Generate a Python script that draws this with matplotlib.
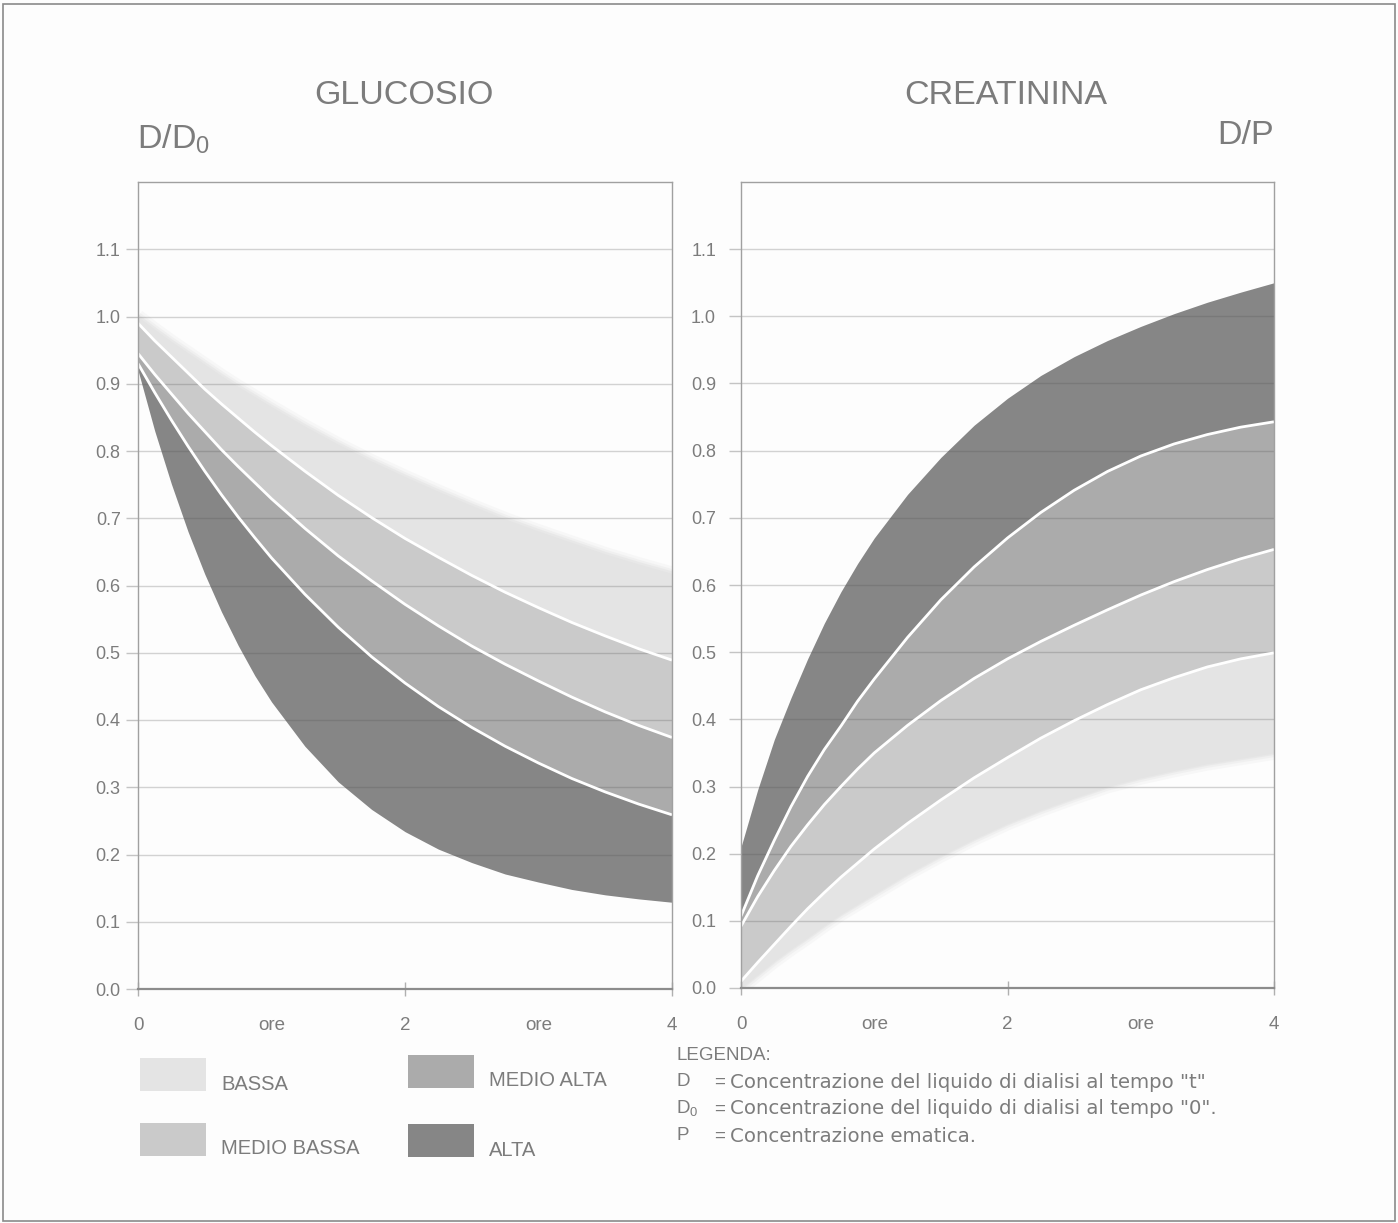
import matplotlib
matplotlib.use('Agg')
import matplotlib.pyplot as plt
from matplotlib.patches import Rectangle

plt.rcParams['font.family'] = ['Liberation Sans', 'DejaVu Sans']
plt.rcParams['mathtext.fontset'] = 'custom'
plt.rcParams['mathtext.rm'] = 'Liberation Sans'

W, H = 1398, 1223

# ---------------- data ----------------
hours = [0, 0.125, 0.25, 0.375, 0.5, 0.625, 0.75, 0.875, 1.0, 1.25, 1.5,
         1.75, 2.0, 2.25, 2.5, 2.75, 3.0, 3.25, 3.5, 3.75, 4.0]

categories = ['BASSA', 'MEDIO BASSA', 'MEDIO ALTA', 'ALTA']

# GLUCOSIO  D/D0  - band boundaries (top to bottom)
glu_bassa_top = [1.00, 0.981, 0.963, 0.946, 0.929, 0.912, 0.896, 0.881, 0.866,
                 0.837, 0.810, 0.785, 0.762, 0.740, 0.719, 0.699, 0.681,
                 0.664, 0.647, 0.632, 0.618]
glu_bassa_mb = [0.99, 0.964, 0.940, 0.916, 0.892, 0.870, 0.849, 0.828, 0.808,
                0.770, 0.734, 0.701, 0.670, 0.642, 0.615, 0.590, 0.567,
                0.545, 0.525, 0.506, 0.489]
glu_mb_ma = [0.945, 0.914, 0.885, 0.856, 0.829, 0.802, 0.777, 0.753, 0.729,
             0.685, 0.644, 0.607, 0.572, 0.540, 0.510, 0.483, 0.458,
             0.434, 0.412, 0.392, 0.374]
glu_ma_alta = [0.93, 0.887, 0.846, 0.807, 0.770, 0.735, 0.702, 0.671, 0.641,
               0.587, 0.538, 0.494, 0.455, 0.420, 0.389, 0.361, 0.336,
               0.313, 0.293, 0.275, 0.259]
glu_alta_bottom = [0.92, 0.830, 0.751, 0.680, 0.617, 0.561, 0.511, 0.466, 0.427,
                   0.361, 0.308, 0.267, 0.234, 0.208, 0.188, 0.171, 0.159,
                   0.148, 0.140, 0.134, 0.129]

# CREATININA  D/P - band boundaries (top to bottom)
cre_alta_top = [0.21, 0.295, 0.37, 0.432, 0.49, 0.543, 0.59, 0.632, 0.67,
                0.735, 0.79, 0.838, 0.878, 0.912, 0.94, 0.964, 0.985,
                1.004, 1.021, 1.036, 1.05]
cre_alta_ma = [0.107, 0.167, 0.22, 0.27, 0.315, 0.355, 0.39, 0.427, 0.46,
               0.522, 0.578, 0.627, 0.67, 0.708, 0.741, 0.769, 0.792,
               0.810, 0.824, 0.835, 0.843]
cre_ma_mb = [0.092, 0.136, 0.175, 0.211, 0.243, 0.273, 0.30, 0.326, 0.35,
             0.391, 0.428, 0.461, 0.49, 0.516, 0.54, 0.563, 0.585,
             0.605, 0.623, 0.639, 0.653]
cre_mb_bassa = [0.01, 0.038, 0.065, 0.092, 0.118, 0.142, 0.165, 0.186, 0.207,
                0.245, 0.28, 0.313, 0.343, 0.372, 0.398, 0.422, 0.444,
                0.462, 0.478, 0.49, 0.499]
cre_bassa_bottom = [0.0, 0.02, 0.04, 0.058, 0.075, 0.093, 0.11, 0.125, 0.14,
                    0.17, 0.197, 0.222, 0.245, 0.265, 0.283, 0.30, 0.313,
                    0.324, 0.334, 0.342, 0.35]

yticks = [0.0, 0.1, 0.2, 0.3, 0.4, 0.5, 0.6, 0.7, 0.8, 0.9, 1.0, 1.1]
ytick_labels = ['0.0', '0.1', '0.2', '0.3', '0.4', '0.5', '0.6', '0.7',
                '0.8', '0.9', '1.0', '1.1']
xticks_major = [0, 2, 4]
xtick_major_labels = ['0', '2', '4']
xticks_minor = [1, 3]
xtick_minor_labels = ['ore', 'ore']

legend_lines = [('D', 'Concentrazione del liquido di dialisi al tempo "t"'),
                ('D$_\\mathregular{0}$', 'Concentrazione del liquido di dialisi al tempo "0".'),
                ('P', 'Concentrazione ematica.')]

# ---------------- style ----------------
band_colors = {'BASSA': '#e4e4e4', 'MEDIO BASSA': '#cacaca',
               'MEDIO ALTA': '#ababab', 'ALTA': '#868686'}
TXT = '#7c7c7c'
BG = '#fdfdfd'


def fx(px):
    return px / W


def fy(py):
    return 1 - py / H


fig = plt.figure(figsize=(W / 100, H / 100), dpi=100, facecolor=BG)

ax1 = fig.add_axes([fx(138), fy(989), fx(672) - fx(138), fy(182) - fy(989)])
ax2 = fig.add_axes([fx(741), fy(988), fx(1274) - fx(741), fy(182) - fy(988)])


def style(ax, ypad):
    ax.set_xlim(0, 4)
    ax.set_ylim(0, 1.2)
    ax.set_facecolor('none')
    for s in ax.spines.values():
        s.set_color('#a0a0a0')
        s.set_linewidth(1.0)
    ax.spines['bottom'].set_color('#8c8c8c')
    ax.spines['bottom'].set_linewidth(1.6)
    ax.set_yticks(yticks)
    ax.set_yticklabels(ytick_labels)
    ax.set_xticks(xticks_major)
    ax.set_xticklabels(xtick_major_labels)
    ax.set_xticks(xticks_minor, minor=True)
    ax.set_xticklabels(xtick_minor_labels, minor=True)
    ax.tick_params(axis='x', which='major', direction='inout', length=10,
                   width=1, color='#b0b0b0', pad=15, labelsize=13.5,
                   labelcolor=TXT)
    ax.tick_params(axis='x', which='minor', length=0, pad=20,
                   labelsize=13.5, labelcolor=TXT)
    ax.tick_params(axis='y', direction='out', length=9, width=1,
                   color='#c4c4c4', pad=ypad, labelsize=13, labelcolor=TXT)
    for y in yticks[1:]:
        ax.axhline(y, color='#555555', lw=1.0, alpha=0.25, zorder=1.5)


def bands(ax, bounds, order, soft_edge):
    # bounds: list top->bottom, order: category for each band top->bottom
    for i, cat in enumerate(order):
        ax.fill_between(hours, bounds[i + 1], bounds[i],
                        color=band_colors[cat], lw=0, zorder=1)
    # soft, slightly blurred outer edge of the lightest band
    for lw, a in [(10, 0.22), (6, 0.35), (3, 0.6)]:
        ax.plot(hours, soft_edge, color=band_colors['BASSA'], lw=lw,
                alpha=a, zorder=0.9, solid_capstyle='butt')
    for b in bounds[1:-1]:
        ax.plot(hours, b, color='white', lw=2.0, zorder=2,
                solid_capstyle='butt', solid_joinstyle='round')


style(ax1, 3.5)
style(ax2, 9)

bands(ax1, [glu_bassa_top, glu_bassa_mb, glu_mb_ma, glu_ma_alta, glu_alta_bottom],
      ['BASSA', 'MEDIO BASSA', 'MEDIO ALTA', 'ALTA'], glu_bassa_top)
bands(ax2, [cre_alta_top, cre_alta_ma, cre_ma_mb, cre_mb_bassa, cre_bassa_bottom],
      ['ALTA', 'MEDIO ALTA', 'MEDIO BASSA', 'BASSA'], cre_bassa_bottom)

# titles and axis names
fig.text(fx(404), fy(95), 'GLUCOSIO', ha='center', va='center',
         fontsize=24.5, color=TXT)
fig.text(fx(1006), fy(95), 'CREATININA', ha='center', va='center',
         fontsize=24.5, color=TXT)
fig.text(fx(137), fy(139), 'D/D$_\\mathregular{0}$', ha='left', va='center',
         fontsize=24.5, color=TXT)
fig.text(fx(1274), fy(136), 'D/P', ha='right', va='center',
         fontsize=24.5, color=TXT)

# swatch legend
swatches = {'BASSA': (140, 1058), 'MEDIO BASSA': (140, 1123),
            'MEDIO ALTA': (408, 1055), 'ALTA': (408, 1124)}
for cat in categories:
    sx, sy = swatches[cat]
    fig.add_artist(Rectangle((fx(sx), fy(sy + 33)), fx(66), 33 / H,
                             transform=fig.transFigure,
                             facecolor=band_colors[cat], edgecolor='none'))
    fig.text(fx(sx + 81), fy(sy + 26), cat, ha='left', va='center',
             fontsize=14.5, color=TXT)

# text legend
fig.text(fx(676), fy(1055), 'LEGENDA:', ha='left', va='center',
         fontsize=13.5, color=TXT)
for i, (sym, desc) in enumerate(legend_lines):
    yy = 1082 + 27 * i
    fig.text(fx(676), fy(yy), sym, ha='left', va='center', fontsize=13.5,
             color=TXT)
    fig.text(fx(714), fy(yy), '=', ha='left', va='center', fontsize=13.5,
             color=TXT)
    fig.text(fx(730), fy(yy), desc, ha='left', va='center', fontsize=14.2,
             color=TXT, family=['DejaVu Sans'])

# outer frame
fig.add_artist(Rectangle((fx(3), fy(1221)), fx(1392), 1217 / H,
                         transform=fig.transFigure, facecolor='none',
                         edgecolor='#8a8a8a', lw=1.2))

fig.savefig('out.png', dpi=100, facecolor=BG)
